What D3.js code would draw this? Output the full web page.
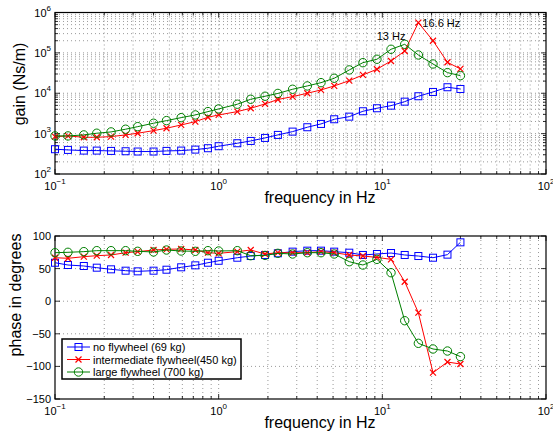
<!DOCTYPE html>
<html>
<head>
<meta charset="utf-8">
<script src="https://cdn.jsdelivr.net/npm/d3@7"></script>
<style>
  body { margin: 0; background: #fff; }
  text { font-family: "Liberation Sans", Arial, sans-serif; fill: #000; }
</style>
</head>
<body>
<svg id="chart" width="553" height="437"></svg>
<script>
// measured frequencies (Hz)
const freq = [0.1, 0.12, 0.15, 0.18, 0.22, 0.27, 0.32, 0.4, 0.48, 0.59, 0.72, 0.86, 1.0, 1.3, 1.57, 1.92,
              2.3, 2.83, 3.48, 4.22, 5.08, 6.28, 7.61, 9.27, 11.3, 13.7, 16.6, 20.4, 25, 30];

// gain (Ns/m)
const gainNone = [411, 395, 380, 380, 373, 366, 360, 360, 373, 380, 402, 435, 488, 578, 659, 783,
                  929, 1122, 1440, 1738, 2270, 2634, 3582, 4252, 4930, 6194, 8430, 10770, 14090, 12760];
const gainMid = [843, 877, 812, 812, 843, 929, 1023, 1186, 1361, 1641, 1982, 2546, 2903, 3510, 4252, 5435,
                 7000, 8260, 10000, 12080, 15170, 20500, 28400, 39300, 63000, 111000, 560000, 200000, 58500, 40000];
const gainLarge = [877, 877, 929, 1023, 1102, 1286, 1489, 1810, 2100, 2490, 2905, 3510, 4090, 5346, 7100, 8430,
                   9900, 12560, 15170, 18300, 23500, 37800, 57200, 69500, 122800, 163000, 88700, 53100, 32400, 27300];

// phase (degrees)
const phaseNone = [59, 55.5, 54, 51.4, 48.9, 46.8, 45.8, 46.8, 48.3, 52, 55, 59, 62, 66.7, 69.3, 70.9,
                   73.5, 76, 77.5, 77.5, 76, 74.4, 70.9, 72.4, 73.9, 70.9, 69.3, 66.7, 71.4, 90.3];
const phaseMid = [66.7, 65.8, 68.3, 69.8, 70.9, 74.4, 76, 78.5, 79.6, 80.1, 78.5, 74.4, 73.4, 76, 78.5, 72.4,
                  74.4, 74.4, 74.4, 76, 74.4, 70.9, 69.3, 67.2, 64.2, 29.9, -17.6, -109.6, -93.3, -96.3];
const phaseLarge = [74.4, 75, 76, 77.5, 77.5, 77.5, 76.5, 75.5, 78.5, 77, 76.5, 77.5, 77, 77.5, 69.8, 70.2,
                    73.4, 72.4, 74.4, 74.4, 72.4, 60.6, 55.5, 64.2, 43.7, -29.9, -64.6, -73.3, -76.4, -85];

const seriesNames = ["no flywheel (69 kg)", "intermediate flywheel(450 kg)", "large flywheel (700 kg)"];
const seriesColors = ["#0000ff", "#ff0000", "#007f00"];
const seriesMarkers = ["square", "cross", "circle"];

const gainTicks = [1e2, 1e3, 1e4, 1e5, 1e6];
const phaseTicks = [-150, -100, -50, 0, 50, 100];
const freqTicks = [0.1, 1, 10, 100];

const svg = d3.select("#chart");
const left = 55, right = 546;

const x = d3.scaleLog().domain([0.1, 100]).range([left, right]);
const yGain = d3.scaleLog().domain([1e2, 1e6]).range([174, 12.5]);
const yPhase = d3.scaleLinear().domain([-150, 100]).range([399, 236]);

// minor log values (1..9 per decade)
function logMinor(lo, hi) {
  const out = [];
  for (let e = Math.log10(lo); e < Math.log10(hi); e++) {
    for (let m = 1; m <= 9; m++) out.push(m * Math.pow(10, e));
  }
  out.push(hi);
  return out;
}
const xMinor = logMinor(0.1, 100);

function expLabel(sel, exp) {
  sel.append("tspan").text("10");
  sel.append("tspan").attr("dy", -6).style("font-size", "8px").text(exp);
}

function drawPanel(y, yTicks, yMinor, isLog, data, yLabel, labelY) {
  const [yb, yt] = y.range();
  const g = svg.append("g");

  // grid
  const grid = g.append("g").attr("stroke", "#555").attr("stroke-width", 0.6)
    .attr("stroke-dasharray", "1,3");
  grid.selectAll(".gx").data(xMinor.filter(v => v > 0.1 && v < 100)).enter().append("line")
    .attr("x1", d => x(d)).attr("x2", d => x(d)).attr("y1", yt).attr("y2", yb);
  grid.selectAll(".gy").data(yMinor.filter(v => y(v) < yb - 0.5 && y(v) > yt + 0.5)).enter().append("line")
    .attr("y1", d => y(d)).attr("y2", d => y(d)).attr("x1", left).attr("x2", right);

  // ticks inside, all four sides
  const tk = g.append("g").attr("stroke", "#000").attr("stroke-width", 0.8);
  xMinor.forEach(v => {
    const len = freqTicks.includes(+v.toPrecision(3)) ? 5 : 3;
    tk.append("line").attr("x1", x(v)).attr("x2", x(v)).attr("y1", yb).attr("y2", yb - len);
    tk.append("line").attr("x1", x(v)).attr("x2", x(v)).attr("y1", yt).attr("y2", yt + len);
  });
  yMinor.forEach(v => {
    const len = yTicks.includes(+v.toPrecision(3)) ? 5 : 3;
    tk.append("line").attr("y1", y(v)).attr("y2", y(v)).attr("x1", left).attr("x2", left + len);
    tk.append("line").attr("y1", y(v)).attr("y2", y(v)).attr("x1", right).attr("x2", right - len);
  });

  // frame
  g.append("rect").attr("x", left).attr("y", yt).attr("width", right - left).attr("height", yb - yt)
    .attr("fill", "none").attr("stroke", "#000").attr("stroke-width", 1.2);

  // tick labels
  freqTicks.forEach(v => {
    const t = g.append("text").attr("x", x(v)).attr("y", yb + 16).attr("text-anchor", "middle")
      .style("font-size", "11px");
    expLabel(t, Math.round(Math.log10(v)) < 0 ? "\u22121" : String(Math.round(Math.log10(v))));
  });
  yTicks.forEach(v => {
    const t = g.append("text").attr("x", left - 4).attr("y", y(v) + 4).attr("text-anchor", "end")
      .style("font-size", "11px");
    if (isLog) expLabel(t, String(Math.round(Math.log10(v))));
    else t.text(v < 0 ? "\u2212" + Math.abs(v) : v);
  });

  g.append("text").attr("x", 320).attr("y", yb + 29).attr("text-anchor", "middle")
    .style("font-size", "16px").text("frequency in Hz");
  g.append("text").attr("transform", `translate(${isLog ? 25 : 21},${labelY}) rotate(-90)`)
    .attr("text-anchor", "middle").style("font-size", "16px").text(yLabel);

  // series
  data.forEach((vals, i) => {
    const pts = freq.map((f, j) => [f, vals[j]]);
    const line = d3.line().x(d => x(d[0])).y(d => y(d[1]));
    g.append("path").datum(pts).attr("d", line).attr("fill", "none")
      .attr("stroke", seriesColors[i]).attr("stroke-width", 1);
    drawMarkers(g, pts.map(p => [x(p[0]), y(p[1])]), i);
  });
}

function drawMarkers(g, pts, i) {
  const c = seriesColors[i];
  pts.forEach(([px, py]) => {
    if (seriesMarkers[i] === "square") {
      g.append("rect").attr("x", px - 3.5).attr("y", py - 3.5).attr("width", 7).attr("height", 7)
        .attr("fill", "none").attr("stroke", c).attr("stroke-width", 1);
    } else if (seriesMarkers[i] === "circle") {
      g.append("circle").attr("cx", px).attr("cy", py).attr("r", 4.2)
        .attr("fill", "none").attr("stroke", c).attr("stroke-width", 1);
    } else {
      g.append("path").attr("d", `M${px - 3},${py - 3}L${px + 3},${py + 3}M${px - 3},${py + 3}L${px + 3},${py - 3}`)
        .attr("fill", "none").attr("stroke", c).attr("stroke-width", 1.2);
    }
  });
}

const gainMinor = logMinor(1e2, 1e6);

drawPanel(yGain, gainTicks, gainMinor, true, [gainNone, gainMid, gainLarge], "gain (Ns/m)", 84);
drawPanel(yPhase, phaseTicks, phaseTicks, false, [phaseNone, phaseMid, phaseLarge], "phase in degrees", 295);

// peak annotations
svg.append("text").attr("x", x(13.7) - 28).attr("y", yGain(163000) - 4).style("font-size", "11px").text("13 Hz");
svg.append("text").attr("x", x(16.6) + 4).attr("y", yGain(560000) + 4).style("font-size", "11px").text("16.6 Hz");

// legend
const lg = svg.append("g");
lg.append("rect").attr("x", 62).attr("y", 339).attr("width", 179).attr("height", 40)
  .attr("fill", "#fff").attr("stroke", "#000").attr("stroke-width", 1.5);
seriesNames.forEach((name, i) => {
  const ly = 347 + i * 12.5;
  lg.append("line").attr("x1", 67).attr("x2", 90).attr("y1", ly).attr("y2", ly)
    .attr("stroke", seriesColors[i]).attr("stroke-width", 1);
  drawMarkers(lg, [[78.5, ly]], i);
  lg.append("text").attr("x", 93).attr("y", ly + 4).style("font-size", "11px").text(name);
});
</script>
</body>
</html>
